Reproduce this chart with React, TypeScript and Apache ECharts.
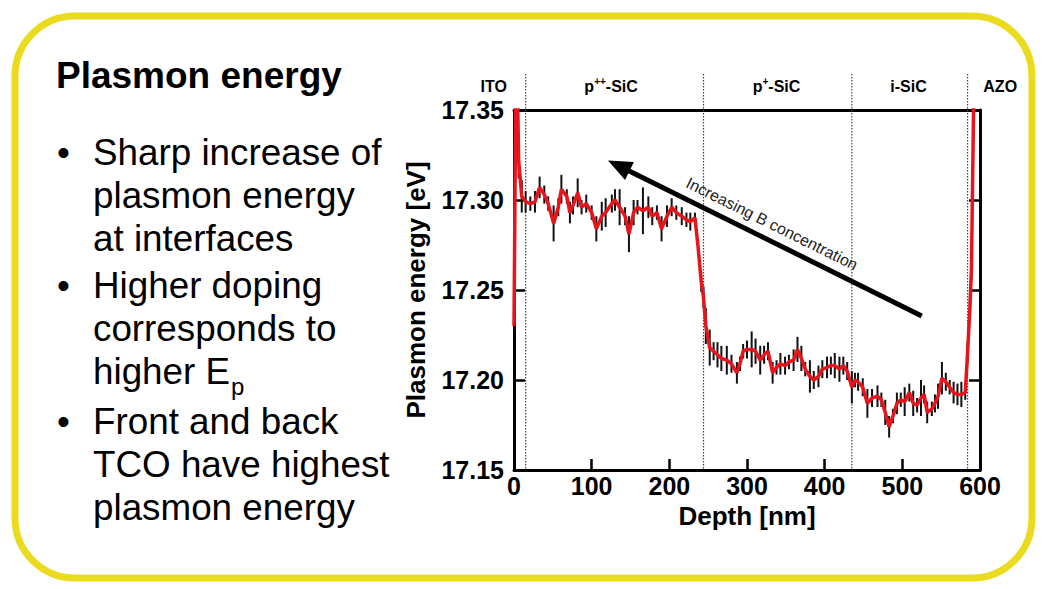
import React, { useEffect, useRef } from "react";
import * as echarts from "echarts";

// ---------- data ----------
const depth = [
  0, 3, 6, 10, 15, 21, 27, 33, 39, 44,
  51, 57, 61, 68, 72, 76, 82, 87, 93, 100,
  106, 113, 118, 126, 130, 136, 143, 148, 154, 159,
  166, 173, 178, 184, 190, 197, 203, 209, 216, 222,
  227, 233, 237, 241, 244, 247, 252, 257, 262, 267,
  274, 280, 287, 291, 295, 300, 306, 311, 317, 322,
  327, 333, 338, 343, 349, 354, 360, 365, 370, 375,
  381, 386, 392, 397, 403, 408, 413, 419, 424, 429,
  435, 439, 443, 449, 455, 461, 468, 473, 478, 483,
  488, 493, 498, 503, 509, 514, 519, 524, 528, 532,
  538, 542, 546, 551, 556, 561, 566, 571, 576, 581,
  584, 587, 589, 592, 595,
];
const energy = [
  17.230, 17.400, 17.322, 17.302, 17.299, 17.298, 17.299, 17.307, 17.303, 17.298,
  17.287, 17.296, 17.306, 17.302, 17.293, 17.297, 17.304, 17.296, 17.298, 17.293,
  17.284, 17.291, 17.293, 17.298, 17.300, 17.296, 17.291, 17.281, 17.293, 17.296,
  17.294, 17.296, 17.291, 17.293, 17.284, 17.291, 17.296, 17.293, 17.291, 17.289,
  17.288, 17.290, 17.274, 17.255, 17.246, 17.230, 17.218, 17.216, 17.214, 17.212,
  17.211, 17.209, 17.204, 17.209, 17.216, 17.217, 17.217, 17.216, 17.211, 17.214,
  17.216, 17.204, 17.207, 17.209, 17.208, 17.210, 17.211, 17.217, 17.212, 17.206,
  17.202, 17.200, 17.202, 17.206, 17.207, 17.208, 17.208, 17.206, 17.208, 17.205,
  17.196, 17.200, 17.199, 17.196, 17.187, 17.190, 17.191, 17.189, 17.182, 17.174,
  17.180, 17.187, 17.189, 17.188, 17.193, 17.187, 17.186, 17.190, 17.192, 17.182,
  17.184, 17.187, 17.191, 17.201, 17.199, 17.196, 17.193, 17.192, 17.192, 17.193,
  17.215, 17.240, 17.262, 17.360, 17.420,
];
const errHalf = [
  0.004, 0.010, 0.010, 0.009, 0.006, 0.004, 0.006, 0.006, 0.005, 0.004,
  0.010, 0.005, 0.008, 0.004, 0.006, 0.005, 0.008, 0.004, 0.005, 0.004,
  0.007, 0.008, 0.008, 0.005, 0.006, 0.010, 0.005, 0.010, 0.007, 0.004,
  0.013, 0.006, 0.005, 0.004, 0.007, 0.006, 0.005, 0.004, 0.005, 0.004,
  0.005, 0.003, 0.005, 0.006, 0.006, 0.010, 0.010, 0.005, 0.007, 0.007,
  0.008, 0.005, 0.006, 0.004, 0.004, 0.005, 0.010, 0.007, 0.008, 0.005,
  0.005, 0.006, 0.004, 0.006, 0.005, 0.004, 0.006, 0.007, 0.007, 0.004,
  0.009, 0.005, 0.006, 0.005, 0.006, 0.005, 0.007, 0.007, 0.005, 0.005,
  0.009, 0.004, 0.005, 0.005, 0.008, 0.005, 0.006, 0.004, 0.007, 0.006,
  0.004, 0.006, 0.004, 0.008, 0.005, 0.007, 0.004, 0.010, 0.005, 0.006,
  0.004, 0.005, 0.007, 0.009, 0.005, 0.004, 0.006, 0.006, 0.007, 0.004,
  0.006, 0.006, 0.007, 0.010, 0.010,
];

const layerBounds = [15, 244, 435, 584];
const layerLabels = [
  { at: -26, main: "ITO", sup: "", rest: "" },
  { at: 125, main: "p", sup: "++", rest: "-SiC" },
  { at: 338, main: "p", sup: "+", rest: "-SiC" },
  { at: 508, main: "i-SiC", sup: "", rest: "" },
  { at: 626, main: "AZO", sup: "", rest: "" },
];

const arrowFrom = [525, 17.2356];
const arrowTo = [121, 17.322];
const arrowText = "Increasing B concentration";

const titleText = "Plasmon energy";
const bulletLines = [
  { bullet: true, text: "Sharp increase of" },
  { bullet: false, text: "plasmon energy" },
  { bullet: false, text: "at interfaces" },
  { bullet: true, text: "Higher doping" },
  { bullet: false, text: "corresponds to" },
  { bullet: false, text: "higher E", sub: "p" },
  { bullet: true, text: "Front and back" },
  { bullet: false, text: "TCO have highest" },
  { bullet: false, text: "plasmon energy" },
];
const bulletMids = [152, 195, 238, 285, 328, 371, 421, 464, 507];

const FONT = "'Liberation Sans', Arial, Helvetica, sans-serif";

export default function App() {
  const ref = useRef<HTMLDivElement>(null);

  useEffect(() => {
    document.body.style.margin = "0";
    const chart = echarts.init(ref.current!, null, { renderer: "svg" });
    const points = depth.map((d, i) => [d, energy[i], errHalf[i]]);

    const axisFont = { color: "#000", fontSize: 25, fontWeight: "bold", fontFamily: FONT };

    chart.setOption({
      animation: false,
      backgroundColor: "#ffffff",
      grid: { left: 514, top: 110, right: 65, bottom: 119, containLabel: false },
      xAxis: [
        {
          type: "value", min: 0, max: 600, interval: 100, position: "bottom",
          axisLine: { show: true, onZero: false, lineStyle: { color: "#000", width: 3 } },
          axisTick: { show: true, inside: true, length: 11, lineStyle: { color: "#000", width: 2.5 } },
          axisLabel: { ...axisFont, margin: 3 },
          splitLine: { show: false },
          name: "Depth [nm]", nameLocation: "middle", nameGap: 33,
          nameTextStyle: { color: "#000", fontSize: 26, fontWeight: "bold", fontFamily: FONT },
        },
        {
          type: "value", min: 0, max: 600, interval: 100, position: "top",
          axisLine: { show: true, onZero: false, lineStyle: { color: "#000", width: 3 } },
          axisTick: { show: false }, axisLabel: { show: false }, splitLine: { show: false },
        },
      ],
      yAxis: [
        {
          type: "value", min: 17.15, max: 17.35, interval: 0.05, position: "left",
          axisLine: { show: true, onZero: false, lineStyle: { color: "#000", width: 3 } },
          axisTick: { show: true, inside: true, length: 11, lineStyle: { color: "#000", width: 2.5 } },
          axisLabel: { ...axisFont, margin: 10, formatter: (v: number) => v.toFixed(2) },
          splitLine: { show: false },
          name: "Plasmon energy [eV]", nameLocation: "middle", nameGap: 85,
          nameTextStyle: { color: "#000", fontSize: 26, fontWeight: "bold", fontFamily: FONT },
        },
        {
          type: "value", min: 17.15, max: 17.35, interval: 0.05, position: "right",
          axisLine: { show: true, onZero: false, lineStyle: { color: "#000", width: 3 } },
          axisTick: { show: true, inside: true, length: 11, lineStyle: { color: "#000", width: 2.5 } },
          axisLabel: { show: false }, splitLine: { show: false },
        },
      ],
      series: [
        {
          type: "custom",
          xAxisIndex: 0, yAxisIndex: 0,
          clip: true,
          z: 2,
          encode: { x: 0, y: 1 },
          data: points,
          renderItem: (_params: any, api: any) => {
            const x = api.value(0);
            const v = api.value(1);
            const e = api.value(2);
            const p1 = api.coord([x, v - e]);
            const p2 = api.coord([x, v + e]);
            return {
              type: "line",
              shape: { x1: p1[0], y1: p1[1], x2: p2[0], y2: p2[1] },
              style: { stroke: "#111", lineWidth: 2 },
            };
          },
        },
        {
          type: "line",
          xAxisIndex: 0, yAxisIndex: 0,
          clip: true,
          z: 3,
          showSymbol: false,
          symbol: "none",
          data: points.map((p) => [p[0], p[1]]),
          lineStyle: { color: "#e8141c", width: 3.5 },
        },
      ],
    });

    const px = (d: number, v: number) =>
      chart.convertToPixel({ gridIndex: 0 }, [d, v]) as number[];

    const graphics: any[] = [];

    // yellow rounded frame
    graphics.push({
      type: "rect",
      z: -1,
      shape: { x: 15, y: 16, width: 1017, height: 562, r: 60 },
      style: { fill: "none", stroke: "#EADB1E", lineWidth: 7 },
    });

    // dotted layer boundaries
    const yBottom = px(0, 17.15)[1];
    layerBounds.forEach((b) => {
      const x = px(b, 17.15)[0];
      graphics.push({
        type: "line",
        z: 1,
        shape: { x1: x, y1: 74, x2: x, y2: yBottom },
        style: { stroke: "#444", lineWidth: 1.2, lineDash: [1.5, 1.5] },
      });
    });

    // layer labels
    layerLabels.forEach((l) => {
      const x = px(l.at, 17.35)[0];
      const text = l.sup ? `{a|${l.main}}{b|${l.sup}}{a|${l.rest}}` : `{a|${l.main}}`;
      graphics.push({
        type: "text",
        x, y: 86,
        z: 5,
        style: {
          text,
          align: "center",
          verticalAlign: "middle",
          rich: {
            a: { fontSize: 16, fontWeight: "bold", fontFamily: FONT, fill: "#000", lineHeight: 20 },
            b: { fontSize: 10, fontWeight: "bold", fontFamily: FONT, fill: "#000", lineHeight: 10, verticalAlign: "top" },
          },
        },
      });
    });

    // arrow
    const [sx, sy] = px(arrowFrom[0], arrowFrom[1]);
    const [tx, ty] = px(arrowTo[0], arrowTo[1]);
    const ddx = tx - sx, ddy = ty - sy;
    const L = Math.hypot(ddx, ddy);
    const ux = ddx / L, uy = ddy / L;
    const headLen = 24, headHalf = 10;
    const bx = tx - ux * headLen, by = ty - uy * headLen;
    graphics.push({
      type: "line", z: 6,
      shape: { x1: sx, y1: sy, x2: bx + ux * 2, y2: by + uy * 2 },
      style: { stroke: "#000", lineWidth: 5 },
    });
    graphics.push({
      type: "polygon", z: 6,
      shape: {
        points: [
          [tx, ty],
          [bx - uy * headHalf, by + ux * headHalf],
          [bx + uy * headHalf, by - ux * headHalf],
        ],
      },
      style: { fill: "#000" },
    });
    const mx = (sx + tx) / 2, my = (sy + ty) / 2;
    let nx = -uy, ny = ux;
    if (ny > 0) { nx = -nx; ny = -ny; }
    const ang = Math.atan2(sy - ty, sx - tx);
    graphics.push({
      type: "text", z: 6,
      x: mx + nx * 16, y: my + ny * 16,
      rotation: -ang,
      style: {
        text: arrowText, fill: "#222", fontSize: 16, fontFamily: FONT,
        align: "center", verticalAlign: "middle",
      },
    });

    // left text panel
    graphics.push({
      type: "text", z: 5, x: 56, y: 75,
      style: {
        text: titleText, fill: "#000", fontSize: 37, fontWeight: "bold", fontFamily: FONT,
        align: "left", verticalAlign: "middle",
      },
    });
    const FS = 36.8;
    const cnv = document.createElement("canvas").getContext("2d")!;
    cnv.font = `${FS}px ${FONT}`;
    bulletLines.forEach((ln, i) => {
      const yMid = bulletMids[i];
      if (ln.bullet) {
        graphics.push({
          type: "text", z: 5, x: 57, y: yMid,
          style: { text: "\u2022", fill: "#000", fontSize: FS, fontFamily: FONT, align: "left", verticalAlign: "middle" },
        });
      }
      graphics.push({
        type: "text", z: 5, x: 93, y: yMid,
        style: { text: ln.text, fill: "#000", fontSize: FS, fontFamily: FONT, align: "left", verticalAlign: "middle" },
      });
      if (ln.sub) {
        const w = cnv.measureText(ln.text).width;
        graphics.push({
          type: "text", z: 5, x: 93 + w + 1, y: yMid + 15,
          style: { text: ln.sub, fill: "#000", fontSize: 24, fontFamily: FONT, align: "left", verticalAlign: "middle" },
        });
      }
    });

    chart.setOption({ graphic: { elements: graphics } });

    return () => {
      chart.dispose();
    };
  }, []);

  return <div ref={ref} style={{ width: 1045, height: 589 }} />;
}
